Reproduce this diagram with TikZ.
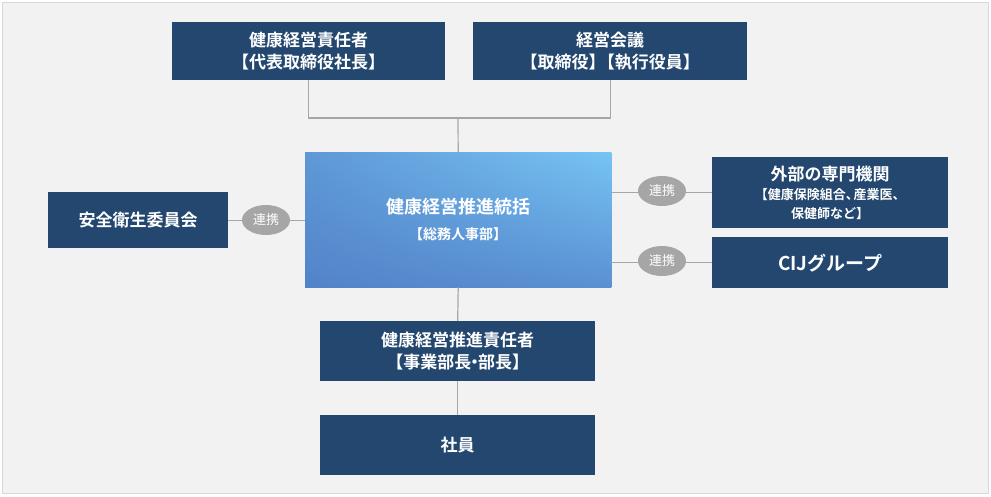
\documentclass[tikz,border=0pt]{standalone}
\usepackage{fontspec}
\setmainfont{Noto Sans CJK JP}[BoldFont={Noto Sans CJK JP Bold}]
\usetikzlibrary{shapes.geometric,shadings}
\definecolor{navy}{HTML}{23476F}
\definecolor{bg}{HTML}{F2F2F2}
\definecolor{ln}{HTML}{A6A6A6}
\definecolor{pill}{HTML}{A6A6A6}
\definecolor{gll}{HTML}{5283C9}
\definecolor{gur}{HTML}{76C4F4}
\definecolor{glr}{HTML}{5A90D2}
\definecolor{gul}{HTML}{5F98D6}
\begin{document}
\begin{tikzpicture}[x=1pt,y=-1pt,
  box/.style={fill=navy,text=white,font=\bfseries\fontsize{17}{22}\selectfont,align=center,inner sep=0,anchor=north west},
  pill/.style={ellipse,fill=pill,text=white,font=\fontsize{13}{15}\selectfont,minimum width=48,minimum height=30,inner sep=0},
  conn/.style={draw=ln,line width=1.2pt}]
\fill[bg,draw=white!85!black] (2,2) rectangle (988,493);
\useasboundingbox (0,0) rectangle (991,496);
\node[box,minimum width=273,minimum height=58] (tl) at (172,22) {健康経営責任者\\【代表取締役社長】};
\node[box,minimum width=274,minimum height=58] (tr) at (473,22) {経営会議\\【取締役】\kern-0.45em【執行役員】};
\node[anchor=north west,minimum width=306,minimum height=135,inner sep=0] (c) at (305,152) {};
\shade[lower left=gll, upper right=gur, lower right=glr, upper left=gul] (c.north west) rectangle (c.south east);
\node[text=white,font=\bfseries\fontsize{18}{26}\selectfont,align=center] at (c.center) {健康経営推進統括\\{\fontsize{14}{20}\selectfont【総務人事部】}};
\node[box,minimum width=180,minimum height=56] (sa) at (48,192) {安全衛生委員会};
\node[box,minimum width=236,minimum height=71] (ex) at (712,157) {外部の専門機関\\[-3pt]{\fontsize{13}{17}\selectfont【健康保険組合、\kern-0.4em産業医、}\\[-3pt]{\fontsize{13}{17}\selectfont 保健師など】}};
\node[box,minimum width=236,minimum height=51,font=\bfseries\fontsize{19}{22}\selectfont] (cij) at (712,237) {CIJグループ};
\node[box,minimum width=275,minimum height=60] (m) at (320,321) {健康経営推進責任者\\【事業部長\kern-0.3em・\kern-0.3em部長】};
\node[box,minimum width=275,minimum height=60] (sh) at (320,415) {社員};
\coordinate (j) at (458,118);
\draw[conn] (tl.south) |- (j) -| (tr.south);
\draw[conn] (j) -- (c.north);
\draw[conn] (c.south) -- (m.north);
\draw[conn] (m.south) -- (sh.north);
\draw[conn] (sa.east) -- (sa.east -| c.west);
\draw[conn] (ex.west -| c.east) -- (ex.west);
\draw[conn] (cij.west -| c.east) -- (cij.west);
\node[pill] (p1) at (266,220) {連携};
\node[pill] (p2) at (662,191) {連携};
\node[pill] (p3) at (662,261) {連携};
\end{tikzpicture}
\end{document}
